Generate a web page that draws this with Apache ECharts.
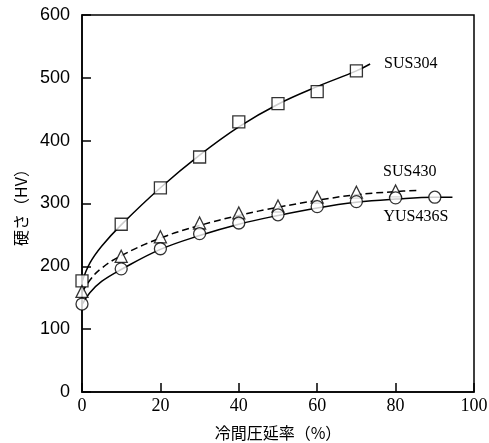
<!DOCTYPE html>
<html>
<head>
<meta charset="utf-8">
<script src="https://cdn.jsdelivr.net/npm/echarts@6/dist/echarts.min.js"></script>
<style>
  html, body { margin: 0; padding: 0; background: #fff; }
  #main { width: 489px; height: 443px; }
</style>
</head>
<body>
<div id="main"></div>
<script>
// cold rolling reduction (%) vs hardness (HV)
// measured points (markers)
const sus304X = [0, 10, 20, 30, 40, 50, 60, 70]
const sus304Y = [177, 267, 325, 374, 430, 459, 478, 511]
const sus430X = [0, 10, 20, 30, 40, 50, 60, 70, 80]
const sus430Y = [160, 216, 247, 269, 285, 296, 310, 318, 320]
const yus436X = [0, 10, 20, 30, 40, 50, 60, 70, 80, 90]
const yus436Y = [140, 196, 228, 252, 269, 282, 295, 303, 309, 310]

// fitted curves
const sus304CurveX = [0, 2, 5, 10, 20, 30, 40, 50, 60, 70, 73.5]
const sus304CurveY = [175, 205, 232, 266, 325, 377, 422, 458, 486, 511, 522]
const sus430CurveX = [0, 2, 5, 10, 20, 30, 40, 50, 60, 70, 80, 86]
const sus430CurveY = [158, 178, 197, 217, 245, 265, 281, 294, 305, 314, 319, 321]
const yus436CurveX = [0, 2, 5, 10, 20, 30, 40, 50, 60, 70, 80, 90, 94.5]
const yus436CurveY = [139, 158, 176, 195, 227, 249, 267, 281, 293, 302, 307, 310, 310]

const seriesNames = ['SUS304', 'SUS430', 'YUS436S']

const serif = '"Liberation Serif", "DejaVu Serif", serif'
const sans = '"Liberation Sans", Arial, sans-serif'
const jp = '"Noto Sans CJK JP", sans-serif'

function zip (xs, ys) {
  return xs.map((x, i) => [x, ys[i]])
}

function curve (name, xs, ys, dashed, offset) {
  return {
    name: name,
    type: 'line',
    data: zip(xs, ys),
    smooth: 0.4,
    symbol: 'none',
    lineStyle: { color: '#000', width: 1.5, type: dashed ? [7, 4] : 'solid' },
    endLabel: {
      show: true,
      formatter: name,
      distance: 0,
      offset: offset,
      fontFamily: serif,
      fontSize: 16,
      color: '#000'
    },
    z: 2
  }
}

function markers (name, xs, ys, symbol, size) {
  return {
    name: name + ' pts',
    type: 'scatter',
    data: zip(xs, ys),
    symbol: symbol,
    symbolSize: size,
    itemStyle: { color: '#fff', borderColor: '#000', borderWidth: 1.3 },
    z: 3
  }
}

const chart = echarts.init(document.getElementById('main'))

const option = {
  animation: false,
  backgroundColor: '#fff',
  grid: {
    left: 82, right: 15, top: 15, bottom: 51,
    outerBoundsMode: 'none',
    containLabel: false,
    show: true, borderColor: '#000', borderWidth: 1.5
  },
  xAxis: {
    type: 'value',
    min: 0, max: 100, interval: 20,
    name: '冷間圧延率（%）',
    nameLocation: 'middle',
    nameGap: 33,
    nameTextStyle: { fontFamily: jp, fontSize: 16, color: '#000' },
    axisLine: { show: true, lineStyle: { color: '#000', width: 1.5 } },
    axisTick: { show: true, inside: true, length: 9, lineStyle: { color: '#000', width: 1.5 } },
    axisLabel: { fontFamily: serif, fontSize: 18, color: '#000', margin: 5 },
    splitLine: { show: false }
  },
  yAxis: {
    type: 'value',
    min: 0, max: 600, interval: 100,
    name: '硬さ（HV）',
    nameLocation: 'middle',
    nameGap: 51,
    nameRotate: 90,
    nameTextStyle: { fontFamily: jp, fontSize: 16, color: '#000' },
    axisLine: { show: true, lineStyle: { color: '#000', width: 1.5 } },
    axisTick: { show: true, inside: true, length: 9, lineStyle: { color: '#000', width: 1.5 } },
    axisLabel: { fontFamily: sans, fontSize: 18, color: '#000', margin: 12 },
    splitLine: { show: false }
  },
  series: [
    curve(seriesNames[0], sus304CurveX, sus304CurveY, false, [14, 0]),
    curve(seriesNames[1], sus430CurveX, sus430CurveY, true, [-36, -19]),
    curve(seriesNames[2], yus436CurveX, yus436CurveY, false, [-69, 20]),
    markers(seriesNames[0], sus304X, sus304Y, 'rect', 12),
    markers(seriesNames[1], sus430X, sus430Y, 'triangle', 12),
    markers(seriesNames[2], yus436X, yus436Y, 'circle', 12)
  ]
}

chart.setOption(option)
</script>
</body>
</html>
